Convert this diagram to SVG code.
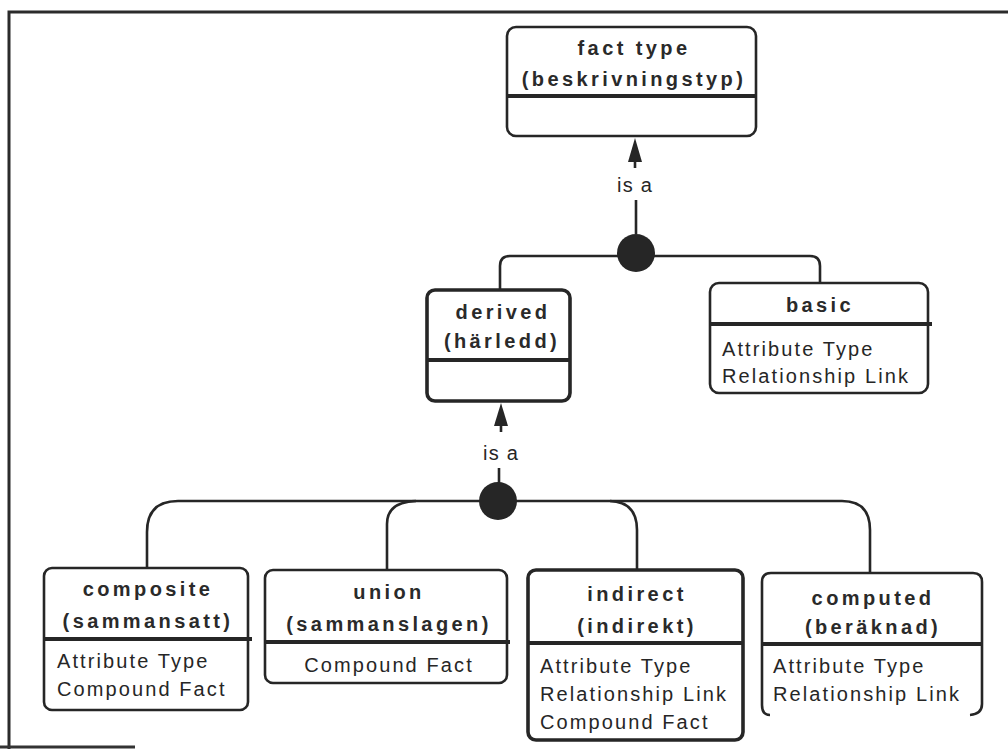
<svg xmlns="http://www.w3.org/2000/svg" width="1008" height="750" viewBox="0 0 1008 750">
  <style>
    .frame { fill: none; stroke: #2b2b2b; stroke-width: 3; }
    .box { fill: #ffffff; stroke: #262626; stroke-width: 2.6; }
    .box.heavy { stroke-width: 3.6; }
    .sep { stroke: #262626; stroke-width: 4; fill: none; }
    .wire { fill: none; stroke: #262626; stroke-width: 2.6; }
    .dot { fill: #262626; }
    .head { fill: #262626; }
    .title { font-family: "Liberation Sans", Arial, sans-serif; font-weight: bold; font-size: 20px; letter-spacing: 3.4px; fill: #2a2a2a; text-anchor: middle; }
    .item { font-family: "Liberation Sans", Arial, sans-serif; font-size: 20px; letter-spacing: 2.1px; fill: #262626; }
    .label { font-family: "Liberation Sans", Arial, sans-serif; font-size: 20px; letter-spacing: 1.2px; fill: #262626; text-anchor: middle; }
  </style>
  <rect x="0" y="0" width="1008" height="750" fill="#ffffff"/>
  <path class="frame" d="M 9 749 V 12 H 1012"/>
  <path d="M 0 747 H 135" stroke="#333" stroke-width="3"/>

  <!-- connectors -->
  <g id="connectors">
    <!-- fact type generalisation -->
    <path class="wire" d="M 636 234 V 200"/>
    <path class="wire" d="M 635 168 V 158"/>
    <polygon class="head" points="635,138 628,162 642,162"/>
    <text class="label" x="635" y="192">is a</text>
    <path class="wire" d="M 500 290 V 266 Q 500 256 510 256 H 810 Q 820 256 820 266 V 283"/>
    <circle class="dot" cx="636" cy="253" r="19"/>

    <!-- derived generalisation -->
    <path class="wire" d="M 499 483 V 468"/>
    <path class="wire" d="M 501 432 V 422"/>
    <polygon class="head" points="501,403 494,426 508,426"/>
    <text class="label" x="501" y="460">is a</text>
    <path class="wire" d="M 147 568 V 532 Q 147 501 178 501 H 842 Q 870 501 870 530 V 573"/>
    <path class="wire" d="M 387 570 V 524 Q 387 502 416 501"/>
    <path class="wire" d="M 637 570 V 530 Q 637 502 610 501"/>
    <circle class="dot" cx="498" cy="501" r="19"/>
  </g>

  <!-- fact type -->
  <g id="fact-type">
    <rect class="box" x="507" y="27" width="249" height="109" rx="9"/>
    <path class="sep" d="M 507 96 H 756"/>
    <text class="title" x="634" y="55">fact type</text>
    <text class="title" x="634" y="86">(beskrivningstyp)</text>
  </g>

  <!-- derived -->
  <g id="derived">
    <rect class="box heavy" x="427" y="290" width="143" height="111" rx="8"/>
    <path class="sep" d="M 427 360 H 570"/>
    <text class="title" x="503" y="319">derived</text>
    <text class="title" x="502" y="348">(härledd)</text>
  </g>

  <!-- basic -->
  <g id="basic">
    <rect class="box" x="710" y="283" width="218" height="110" rx="9"/>
    <path class="sep" d="M 710 324 H 932"/>
    <text class="title" x="820" y="312">basic</text>
    <text class="item" x="722" y="356">Attribute Type</text>
    <text class="item" x="722" y="383">Relationship Link</text>
  </g>

  <!-- composite -->
  <g id="composite">
    <rect class="box" x="44" y="568" width="204" height="142" rx="8"/>
    <path class="sep" d="M 44 639 H 252"/>
    <text class="title" x="148" y="596">composite</text>
    <text class="title" x="148" y="628">(sammansatt)</text>
    <text class="item" x="57" y="668">Attribute Type</text>
    <text class="item" x="57" y="696">Compound Fact</text>
  </g>

  <!-- union -->
  <g id="union">
    <rect class="box" x="265" y="570" width="242" height="113" rx="8"/>
    <path class="sep" d="M 265 642 H 510"/>
    <text class="title" x="389" y="599">union</text>
    <text class="title" x="389" y="631">(sammanslagen)</text>
    <text class="item" x="389" y="672" text-anchor="middle">Compound Fact</text>
  </g>

  <!-- indirect -->
  <g id="indirect">
    <rect class="box heavy" x="528" y="570" width="215" height="170" rx="8"/>
    <path class="sep" d="M 528 643 H 743"/>
    <text class="title" x="637" y="601">indirect</text>
    <text class="title" x="637" y="633">(indirekt)</text>
    <text class="item" x="540" y="673">Attribute Type</text>
    <text class="item" x="540" y="701">Relationship Link</text>
    <text class="item" x="540" y="729">Compound Fact</text>
  </g>

  <!-- computed (bottom edge only partly drawn) -->
  <g id="computed">
    <path class="box" d="M 770 715 Q 762 715 762 705 V 582 Q 762 573 771 573 H 973 Q 982 573 982 582 V 704 Q 982 714 970 715"/>
    <path class="sep" d="M 762 644 H 982"/>
    <text class="title" x="873" y="605">computed</text>
    <text class="title" x="873" y="634">(beräknad)</text>
    <text class="item" x="773" y="673">Attribute Type</text>
    <text class="item" x="773" y="701">Relationship Link</text>
  </g>
</svg>
